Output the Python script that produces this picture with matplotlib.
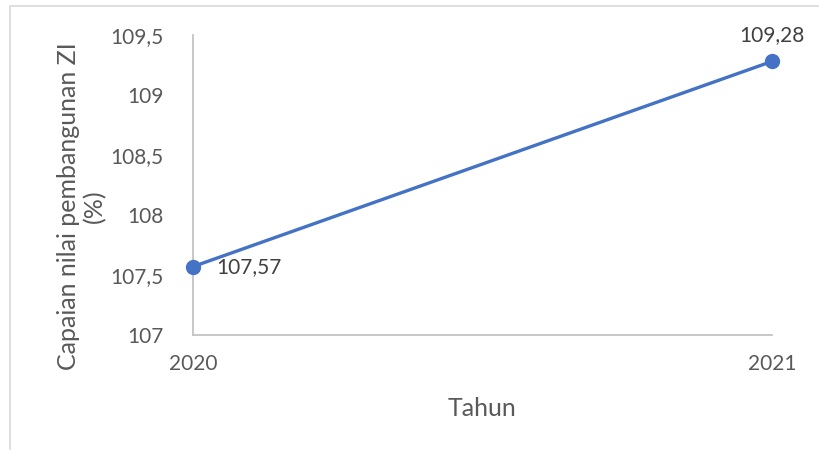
import matplotlib
matplotlib.use("Agg")
import matplotlib.pyplot as plt
from matplotlib.patches import Rectangle

years = ["2020", "2021"]
capaian = [107.57, 109.28]
y_ticks = [107, 107.5, 108, 108.5, 109, 109.5]

blue = "#4472C4"
text_gray = "#595959"
axis_gray = "#BFBFBF"

plt.rcParams["font.family"] = ["Lato", "DejaVu Sans"]

fig = plt.figure(figsize=(8.19, 4.5), dpi=100)
ax = fig.add_axes([193 / 819, 115 / 450, 579 / 819, 300 / 450])

# chart area border, cut off at the right and bottom edges
fig.patches.append(Rectangle((10 / 819, -0.1), 1.2, (444 / 450) + 0.1,
                             transform=fig.transFigure, fill=False,
                             edgecolor="#D9D9D9", linewidth=1.2))

x = list(range(len(years)))
ax.plot(x, capaian, color=blue, linewidth=2.4, marker="o", markersize=10,
        solid_capstyle="round", clip_on=False, zorder=3)

fmt = lambda v: f"{v:.2f}".replace(".", ",")
ax.annotate(fmt(capaian[0]), (x[0], capaian[0]), xytext=(17, 0),
            textcoords="offset points", ha="left", va="center",
            fontsize=15, color="#404040")
ax.annotate(fmt(capaian[1]), (x[1], capaian[1]), xytext=(0, 12),
            textcoords="offset points", ha="center", va="bottom",
            fontsize=15, color="#404040")

ax.set_xlim(x[0], x[-1])
ax.set_ylim(y_ticks[0], y_ticks[-1])
ax.set_xticks(x)
ax.set_xticklabels(years)
ax.set_yticks(y_ticks)
ax.set_yticklabels([f"{t:g}".replace(".", ",") for t in y_ticks])

ax.tick_params(axis="both", length=0, labelsize=15, colors=text_gray)
ax.tick_params(axis="y", pad=21)
ax.tick_params(axis="x", pad=14)

for side in ["top", "right"]:
    ax.spines[side].set_visible(False)
for side in ["left", "bottom"]:
    ax.spines[side].set_color(axis_gray)
    ax.spines[side].set_linewidth(1.2)

ax.set_xlabel("Tahun", fontsize=18, color=text_gray, labelpad=16)
ax.set_ylabel("Capaian nilai pembangunan ZI\n(%)", fontsize=18,
              color=text_gray, linespacing=1.15)
ax.yaxis.set_label_coords(-0.15, 0.43)

fig.savefig("out.png", dpi=100)
